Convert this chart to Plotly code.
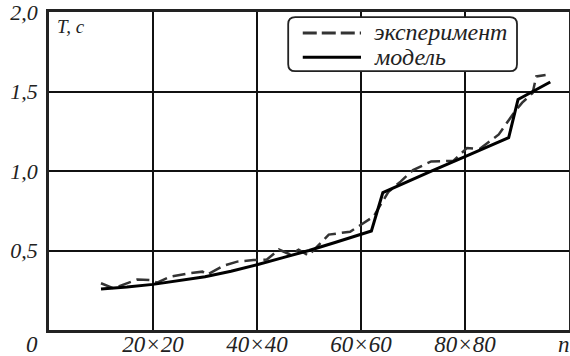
import plotly.graph_objects as go

# Model (solid)
model_n = [10, 15, 20, 25, 30, 35, 40, 45, 50, 55, 60, 62, 64.2, 70, 73.3, 80, 85, 88.4, 90.2, 96.4]
model_t = [0.258, 0.27, 0.287, 0.31, 0.335, 0.37, 0.41, 0.455, 0.5, 0.55, 0.6, 0.623, 0.864, 0.95, 0.996, 1.09, 1.16, 1.21, 1.45, 1.56]

# Experiment (dashed)
exp_n = [10, 12.4, 17, 19.5, 20.8, 23.3, 26.8, 29.5, 30.4, 33.6, 36.2, 39.3, 41.9, 44.2, 46.4, 48, 49.9,
         51.8, 53.8, 57.9, 60, 62.4, 65.3, 67.6, 70, 73.5, 77.8, 80.4, 82.8, 86.5, 89.5, 91, 93, 93.7, 95.5]
exp_t = [0.294, 0.262, 0.318, 0.314, 0.298, 0.335, 0.356, 0.367, 0.348, 0.405, 0.43, 0.44, 0.443, 0.506, 0.475,
         0.505, 0.468, 0.53, 0.6, 0.618, 0.665, 0.713, 0.87, 0.933, 1.006, 1.06, 1.065, 1.145, 1.138, 1.23,
         1.37, 1.43, 1.49, 1.595, 1.604]

x_ticks = [20, 40, 60, 80]
x_labels = ["20×20", "40×40", "60×60", "80×80"]
y_ticks = [0.5, 1.0, 1.5, 2.0]
y_labels = ["0,5", "1,0", "1,5", "2,0"]
legend_names = ["эксперимент", "модель"]

FONT = "Liberation Serif"
TXT = "#222222"

fig = go.Figure()
fig.add_trace(go.Scatter(x=exp_n, y=exp_t, mode="lines", name=legend_names[0],
                         line=dict(color="#333333", width=2.5, dash="13px,6px")))
fig.add_trace(go.Scatter(x=model_n, y=model_t, mode="lines", name=legend_names[1],
                         line=dict(color="#000000", width=3)))

axis_common = dict(showline=True, mirror=True, linecolor="#222222", linewidth=2.5,
                   showgrid=True, gridcolor="#111111", gridwidth=1.6, zeroline=False,
                   ticks="", automargin=False, ticklabeloverflow="allow")

fig.update_xaxes(range=[0, 100], tickvals=x_ticks, ticktext=x_labels, ticklabelstandoff=-8,
                 tickfont=dict(family=FONT, size=23, color=TXT, style="italic"), **axis_common)
fig.update_yaxes(range=[0, 2], tickvals=y_ticks, ticktext=y_labels, ticklabelstandoff=4,
                 tickfont=dict(family=FONT, size=22, color=TXT, style="italic"), **axis_common)

# legend box (rounded) in paper coordinates
x0, x1, y0, y1 = 0.46, 0.9, 0.814, 0.984
rx, ry = 0.0135, 0.022
path = (f"M{x0+rx},{y1} L{x1-rx},{y1} Q{x1},{y1} {x1},{y1-ry} L{x1},{y0+ry} Q{x1},{y0} {x1-rx},{y0} "
        f"L{x0+rx},{y0} Q{x0},{y0} {x0},{y0+ry} L{x0},{y1-ry} Q{x0},{y1} {x0+rx},{y1} Z")
shapes = [
    dict(type="path", path=path, xref="paper", yref="paper", line=dict(color="#222222", width=1.8),
         fillcolor="white", layer="above"),
    dict(type="line", xref="paper", yref="paper", x0=0.488, x1=0.6, y0=0.934, y1=0.934,
         line=dict(color="#333333", width=3, dash="14px,5px"), layer="above"),
    dict(type="line", xref="paper", yref="paper", x0=0.488, x1=0.6, y0=0.858, y1=0.858,
         line=dict(color="#000000", width=3), layer="above"),
]
leg_font = dict(family=FONT, size=24, color=TXT, style="italic")
annotations = [
    dict(text=legend_names[0], xref="paper", yref="paper", x=0.621, y=0.937, xanchor="left", yanchor="middle",
         showarrow=False, font=leg_font),
    dict(text=legend_names[1], xref="paper", yref="paper", x=0.621, y=0.86, xanchor="left", yanchor="middle",
         showarrow=False, font=leg_font),
    dict(text="T, c", xref="paper", yref="paper", x=0.012, y=0.953, xanchor="left", yanchor="middle",
         showarrow=False, font=dict(family=FONT, size=19, color=TXT, style="italic")),
    dict(text="0", xref="paper", yref="paper", x=-0.032, y=-0.047, xanchor="center", yanchor="middle",
         showarrow=False, font=dict(family=FONT, size=23, color=TXT, style="italic")),
    dict(text="n", xref="paper", yref="paper", x=0.99, y=-0.047, xanchor="center", yanchor="middle",
         showarrow=False, font=dict(family=FONT, size=23, color=TXT, style="italic")),
]

fig.update_layout(width=570, height=356, margin=dict(l=49, r=1, t=12, b=26),
                  paper_bgcolor="white", plot_bgcolor="white", showlegend=False,
                  shapes=shapes, annotations=annotations)

fig.write_html("out.html", config={"displayModeBar": False},
               post_script="document.body.style.margin='0';document.body.style.overflow='hidden';")
